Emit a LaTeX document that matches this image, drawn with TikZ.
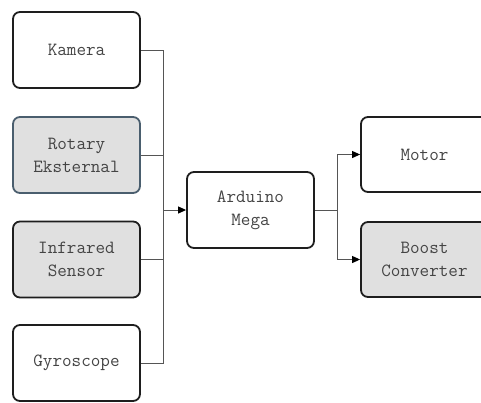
\documentclass[tikz,border=0pt]{standalone}
\usepackage{fontspec}
\usetikzlibrary{arrows.meta}
\definecolor{boxline}{HTML}{1E1E1E}
\definecolor{blueline}{HTML}{4A5E6E}
\definecolor{boxfill}{HTML}{E0E0E0}
\definecolor{txt}{HTML}{444444}
\definecolor{wire}{HTML}{555555}
\tikzset{
  blk/.style={draw=boxline, line width=1.8pt, rounded corners=7pt, fill=white,
    minimum width=127pt, minimum height=76pt, inner sep=0pt, align=center,
    text=txt, font=\ttfamily\fontsize{18.6}{23}\selectfont},
  grayblk/.style={blk, fill=boxfill},
  wireline/.style={draw=wire, line width=1pt},
  arr/.style={wireline, -{Triangle[length=8pt,width=7pt,fill=black,color=black]}}
}
\begin{document}
\begin{tikzpicture}[x=1pt,y=-1pt]
\useasboundingbox (0,0) rectangle (481,402);
\fill[white] (0,0) rectangle (481,402);
\clip (0,0) rectangle (481,402);
\node[blk] (kam) at (76.5,50) {Kamera};
\node[grayblk, draw=blueline] (rot) at (76.5,155) {Rotary\\Eksternal};
\node[grayblk] (ir) at (76.5,259.5) {Infrared\\Sensor};
\node[blk] (gyro) at (76.5,363) {Gyroscope};
\node[blk] (ard) at (250.5,210) {Arduino\\Mega};
\node[blk, minimum height=75pt] (mot) at (424.5,154.5) {Motor};
\node[grayblk, minimum height=75pt] (bst) at (424.5,259.5) {Boost\\Converter};
\coordinate (b1) at (163,210);
\coordinate (b2) at (337,210);
\draw[wireline] (kam.east) -| (b1);
\draw[wireline] (rot.east) -| (b1);
\draw[wireline] (ir.east) -| (b1);
\draw[wireline] (gyro.east) -| (b1);
\draw[arr] (b1) -- (ard.west);
\draw[wireline] (ard.east) -- (b2);
\draw[arr] (b2) |- (mot.west);
\draw[arr] (b2) |- (bst.west);
\end{tikzpicture}
\end{document}
